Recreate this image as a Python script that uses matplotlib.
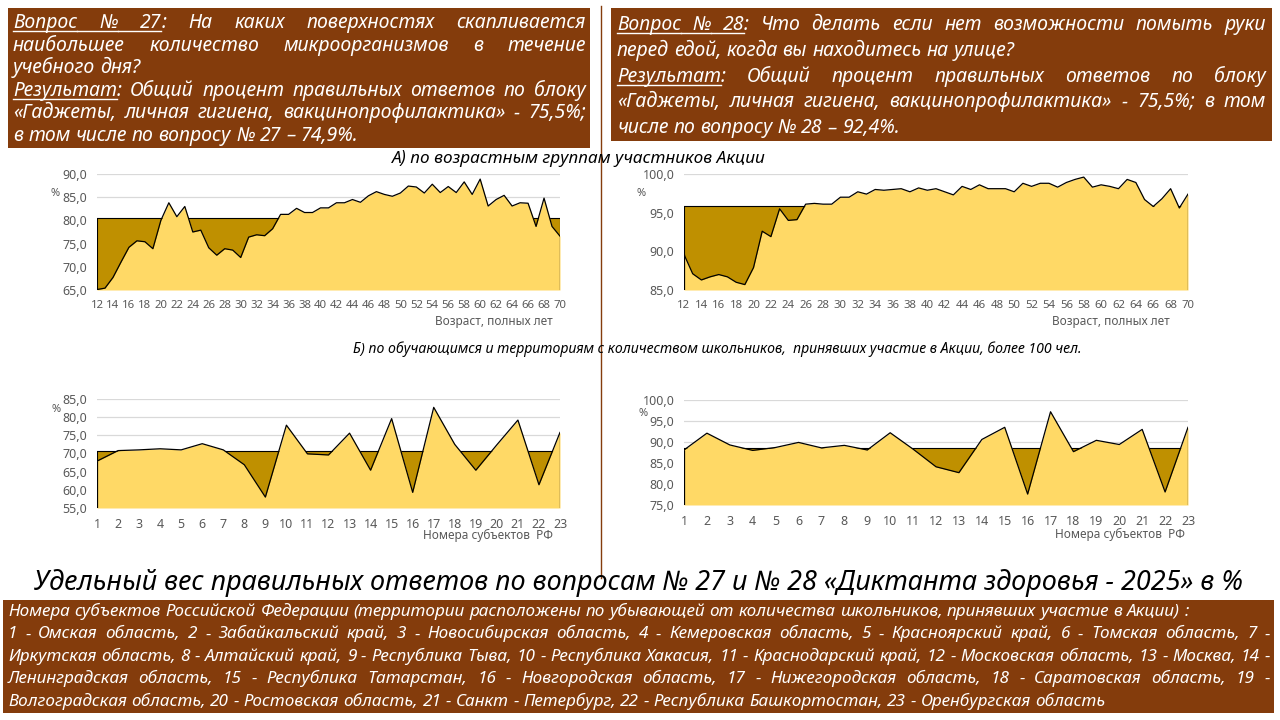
import re
import matplotlib
matplotlib.use("Agg")
import matplotlib.pyplot as plt
from matplotlib.lines import Line2D
from matplotlib.patches import Rectangle
from matplotlib.ticker import FuncFormatter, MultipleLocator

plt.rcParams["font.family"] = ["Noto Sans", "DejaVu Sans"]

# ---- data ----
ages = list(range(12, 71))
q27_age = [65.1, 65.4, 67.7, 71.0, 74.2, 75.6, 75.4, 73.9, 80.0, 83.8, 80.8, 83.0, 77.5, 77.9,
           74.1, 72.5, 73.9, 73.6, 72.0, 76.4, 76.9, 76.7, 78.2, 81.3, 81.3, 82.6, 81.7, 81.7,
           82.7, 82.7, 83.8, 83.8, 84.5, 83.9, 85.3, 86.2, 85.6, 85.2, 85.9, 87.4, 87.2, 85.9,
           87.8, 86.0, 87.3, 86.0, 88.3, 85.6, 88.9, 83.1, 84.5, 85.4, 83.1, 83.8, 83.7, 78.7,
           84.8, 78.7, 76.6]
q28_age = [89.6, 87.1, 86.3, 86.7, 87.0, 86.7, 86.0, 85.7, 87.9, 92.6, 91.9, 95.5, 94.0, 94.1,
           96.1, 96.2, 96.1, 96.1, 97.0, 97.0, 97.7, 97.4, 98.0, 97.9, 98.0, 98.1, 97.7, 98.2,
           97.9, 98.1, 97.7, 97.3, 98.4, 98.0, 98.6, 98.1, 98.1, 98.1, 97.7, 98.8, 98.4, 98.8,
           98.8, 98.3, 98.9, 99.3, 99.6, 98.3, 98.6, 98.4, 98.1, 99.3, 98.9, 96.7, 95.8, 96.8,
           98.1, 95.6, 97.4]
regions = list(range(1, 24))
q27_reg = [67.9, 70.8, 71.0, 71.3, 71.0, 72.7, 71.0, 66.9, 58.0, 77.8, 69.9, 69.6, 75.6, 65.4,
           79.6, 59.3, 82.7, 72.5, 65.4, 72.4, 79.2, 61.4, 75.8]
q28_reg = [88.1, 92.1, 89.3, 88.0, 88.7, 89.9, 88.6, 89.2, 88.1, 92.2, 88.3, 84.1, 82.7, 90.6,
           93.5, 77.6, 97.2, 87.7, 90.4, 89.4, 93.0, 78.1, 93.5]

ref_q27_age = 80.6
ref_q28_age = 95.9
ref_q27_reg = 70.6
ref_q28_reg = 88.6

LIGHT = "#FFD966"
DARK = "#BF9000"
BROWN = "#843C0C"
GRAY = "#595959"

W, H = 1280, 720
fig = plt.figure(figsize=(12.8, 7.2), dpi=100)
renderer = fig.canvas.get_renderer()


def fx(x):
    return x / W


def fy(y):
    return 1 - y / H


def text_width(s, size, style="italic"):
    t = fig.text(0, 0, s, fontsize=size, style=style)
    w = t.get_window_extent(renderer).width
    t.remove()
    return w


def parse(word):
    # "[abc]:" -> underlined "abc" followed by plain ":"
    m = re.match(r"\[(.*?)\](.*)", word)
    if m:
        return m.group(1), m.group(2)
    return "", word


def fit(lines, avail, base):
    widest = max(text_width(l.replace("[", "").replace("]", ""), base) for l, _ in lines)
    return min(base, base * avail / widest * 0.995)


def draw_block(lines, x0, x1, y0, step, size, color="white"):
    space = text_width("a a", size) - text_width("aa", size)
    for i, (line, just) in enumerate(lines):
        words = [parse(w) for w in line.split(" ")]
        widths = [(text_width(u, size) if u else 0.0,
                   text_width(r, size) if r else 0.0) for u, r in words]
        total = sum(a + b for a, b in widths)
        if just and len(words) > 1:
            gap = (x1 - x0 - total) / (len(words) - 1)
        else:
            gap = space
        y = y0 + i * step
        x = x0
        ul_end = None
        for (u, r), (wu, wr) in zip(words, widths):
            if u:
                fig.text(fx(x), fy(y), u, fontsize=size, style="italic", color=color,
                         va="baseline")
                start = ul_end if ul_end is not None else x
                fig.add_artist(Line2D([fx(start), fx(x + wu)], [fy(y + 3)] * 2,
                                      color=color, lw=1.0))
            if r:
                fig.text(fx(x + wu), fy(y), r, fontsize=size, style="italic", color=color,
                         va="baseline")
            ul_end = x + wu if (u and not r) else None
            x += wu + wr + gap


# ---- brown text boxes ----
for (x0, y0, x1, y1) in [(8, 8, 590, 148), (611, 8, 1272, 141), (3, 600, 1274, 713)]:
    fig.add_artist(Rectangle((fx(x0), fy(y1)), (x1 - x0) / W, (y1 - y0) / H,
                             transform=fig.transFigure, facecolor=BROWN, edgecolor="none"))

left_lines = [
    ("[Вопрос] [№] [27]: На каких поверхностях скапливается", True),
    ("наибольшее количество микроорганизмов в течение", True),
    ("учебного дня?", False),
    ("[Результат]: Общий процент правильных ответов по блоку", True),
    ("«Гаджеты, личная гигиена, вакцинопрофилактика» - 75,5%;", True),
    ("в том числе по вопросу № 27 – 74,9%.", False),
]
right_lines = [
    ("[Вопрос] [№] [28]: Что делать если нет возможности помыть руки", True),
    ("перед едой, когда вы находитесь на улице?", False),
    ("[Результат]: Общий процент правильных ответов по блоку", True),
    ("«Гаджеты, личная гигиена, вакцинопрофилактика» - 75,5%; в том", True),
    ("числе по вопросу № 28 – 92,4%.", False),
]
legend_lines = [
    ("Номера субъектов Российской Федерации (территории расположены по убывающей от "
     "количества школьников, принявших участие в Акции) :", False),
    ("1 - Омская область, 2 - Забайкальский край, 3 - Новосибирская область, 4 - Кемеровская "
     "область, 5 - Красноярский край, 6 - Томская область, 7 -", True),
    ("Иркутская область, 8 - Алтайский край, 9 - Республика Тыва, 10 - Республика Хакасия, "
     "11 - Краснодарский край, 12 - Московская область, 13 - Москва, 14 -", True),
    ("Ленинградская область, 15 - Республика Татарстан, 16 - Новгородская область, "
     "17 - Нижегородская область, 18 - Саратовская область, 19 -", True),
    ("Волгоградская область, 20 - Ростовская область, 21 - Санкт - Петербург, "
     "22 - Республика Башкортостан, 23 - Оренбургская область", False),
]

draw_block(left_lines, 13, 586, 28, 22.6, fit(left_lines, 573, 14.0))
draw_block(right_lines, 617, 1266, 30, 25.8, fit(right_lines, 649, 14.0))
draw_block(legend_lines, 8, 1270, 616, 22.4, fit(legend_lines, 1262, 13.0))

# divider
fig.add_artist(Line2D([fx(601), fx(601)], [fy(6), fy(578)], color=BROWN, lw=1.0))

# subtitles and title
sub_a = "А) по возрастным группам участников Акции"
sub_b = "Б) по обучающимся и территориям с количеством школьников,  принявших участие в Акции, более 100 чел."
title = "Удельный вес правильных ответов по вопросам № 27 и № 28 «Диктанта здоровья - 2025» в %"
fig.text(fx(579), fy(158), sub_a, style="italic", ha="center", va="center",
         fontsize=11.0 * 374 / text_width(sub_a, 11.0))
fig.text(fx(717), fy(349), sub_b, style="italic", ha="center", va="center",
         fontsize=11.0 * 731 / text_width(sub_b, 11.0))
fig.text(fx(639), fy(583), title, style="italic", ha="center", va="center",
         fontsize=16.0 * 1208 / text_width(title, 16.0))


# ---- area charts ----
def area_chart(box, x, y, ref, ylo, yhi, xticks, xlabel, label_xy, pct_xy, xtick_size):
    x0, y0, x1, y1 = box
    ax = fig.add_axes([fx(x0), fy(y1), (x1 - x0) / W, (y1 - y0) / H])
    refs = [ref] * len(x)
    ax.fill_between(x, ylo, refs, color=DARK, lw=0, zorder=2)
    ax.plot(x, refs, color="black", lw=0.8, zorder=3)
    ax.vlines([x[0], x[-1]], ylo, ref, color="black", lw=0.8, zorder=3)
    ax.fill_between(x, ylo, y, color=LIGHT, lw=0, zorder=4)
    ax.plot(x, y, color="black", lw=0.9, zorder=5)
    ax.vlines([x[0], x[-1]], ylo, [y[0], y[-1]], color="black", lw=0.9, zorder=5)
    ax.set_xlim(x[0], x[-1])
    ax.set_ylim(ylo, yhi)
    ax.yaxis.set_major_locator(MultipleLocator(5))
    ax.yaxis.set_major_formatter(FuncFormatter(lambda v, p: f"{v:.1f}".replace(".", ",")))
    ax.set_xticks(xticks)
    ax.grid(axis="y", color="#D9D9D9", lw=0.9, zorder=0)
    ax.set_axisbelow(True)
    for s in ax.spines.values():
        s.set_visible(False)
    ax.tick_params(axis="both", length=0, colors=GRAY)
    ax.tick_params(axis="y", labelsize=9, pad=7)
    ax.tick_params(axis="x", labelsize=xtick_size, pad=7)
    fig.text(fx(label_xy[0]), fy(label_xy[1]), xlabel, fontsize=8.5, color=GRAY,
             ha="right", va="center")
    fig.text(fx(pct_xy[0]), fy(pct_xy[1]), "%", fontsize=8, color=GRAY, ha="center", va="center")
    return ax


area_chart((97, 174, 560, 290), ages, q27_age, ref_q27_age, 65, 90, ages[::2],
           "Возраст, полных лет", (553, 322), (55, 193), 8.2)
area_chart((684, 174, 1188, 290), ages, q28_age, ref_q28_age, 85, 100, ages[::2],
           "Возраст, полных лет", (1170, 322), (641, 193), 8.2)
area_chart((97, 399, 560, 508), regions, q27_reg, ref_q27_reg, 55, 85, regions,
           "Номера субъектов  РФ", (553, 535), (56, 410), 9)
area_chart((684, 400, 1188, 505), regions, q28_reg, ref_q28_reg, 75, 100, regions,
           "Номера субъектов  РФ", (1185, 534), (643, 414), 9)

fig.savefig("out.png", dpi=100)
